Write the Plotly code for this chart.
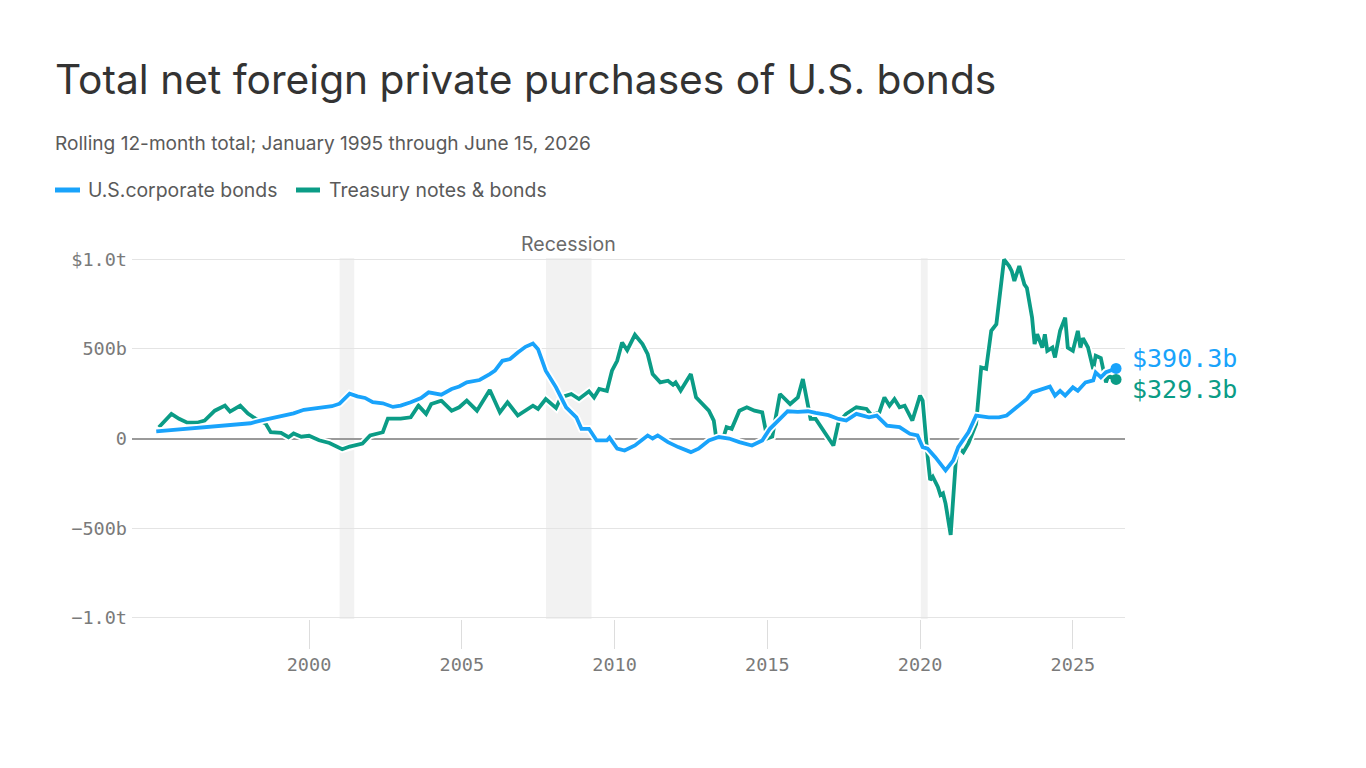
import plotly.graph_objects as go

# rolling 12-month totals, billions of dollars
corp_dates = ["1995-01", "1995-07", "1996-01", "1996-07", "1997-01", "1997-07", "1998-02", "1998-06",
              "1998-10", "1999-02", "1999-07", "1999-11", "2000-03", "2000-06", "2000-10", "2001-01",
              "2001-05", "2001-08", "2001-11", "2002-02", "2002-06", "2002-10", "2003-01", "2003-05",
              "2003-09", "2003-12", "2004-05", "2004-09", "2004-12", "2005-03", "2005-08", "2005-12",
              "2006-02", "2006-05", "2006-08", "2006-11", "2007-02", "2007-05", "2007-07", "2007-10",
              "2008-02", "2008-06", "2008-10", "2008-12", "2009-03", "2009-06", "2009-10", "2009-11",
              "2010-02", "2010-05", "2010-09", "2011-02", "2011-04", "2011-06", "2011-10", "2012-02",
              "2012-07", "2012-10", "2013-02", "2013-06", "2013-10", "2014-02", "2014-07", "2014-11",
              "2015-02", "2015-06", "2015-09", "2016-01", "2016-05", "2016-08", "2017-01", "2017-05",
              "2017-08", "2017-12", "2018-05", "2018-08", "2018-12", "2019-05", "2019-09", "2019-12",
              "2020-02", "2020-04", "2020-07", "2020-11", "2021-02", "2021-04", "2021-08", "2021-11",
              "2022-04", "2022-08", "2022-11", "2023-03", "2023-07", "2023-09", "2024-02", "2024-04",
              "2024-06", "2024-08", "2024-10", "2025-01", "2025-03", "2025-06", "2025-09", "2025-10",
              "2025-12", "2026-02", "2026-06"]
corp_vals = [40, 47, 55, 62, 70, 80, 85, 100,
             112, 124, 140, 160, 168, 174, 180, 194,
             250, 235, 226, 202, 196, 176, 183, 202,
             225, 257, 244, 276, 290, 313, 326, 359,
             378, 433, 443, 479, 511, 529, 498, 378,
             285, 174, 118, 54, 54, -11, -11, 5,
             -56, -67, -39, 17, 0, 17, -20, -48,
             -76, -57, -11, 8, 0, -20, -39, -11,
             54, 109, 152, 148, 152, 143, 130, 109,
             100, 137, 118, 128, 72, 63, 26, 17,
             -48, -57, -104, -178, -122, -48, 35, 128,
             118, 118, 128, 174, 220, 257, 281, 289,
             239, 266, 239, 285, 266, 313, 324, 368,
             341, 370, 390.3]

treas_dates = ["1995-02", "1995-07", "1995-10", "1996-01", "1996-05", "1996-08", "1996-12", "1997-04",
               "1997-06", "1997-10", "1998-01", "1998-04", "1998-08", "1998-10", "1999-02", "1999-05",
               "1999-07", "1999-10", "2000-01", "2000-05", "2000-09", "2001-02", "2001-05", "2001-10",
               "2002-01", "2002-06", "2002-08", "2003-01", "2003-05", "2003-08", "2003-11", "2004-01",
               "2004-05", "2004-09", "2004-12", "2005-03", "2005-07", "2005-12", "2006-04", "2006-07",
               "2006-11", "2007-05", "2007-07", "2007-10", "2008-02", "2008-04", "2008-08", "2008-11",
               "2009-03", "2009-05", "2009-07", "2009-10", "2009-12", "2010-02", "2010-04", "2010-06",
               "2010-09", "2010-12", "2011-02", "2011-04", "2011-07", "2011-10", "2011-12", "2012-01",
               "2012-03", "2012-07", "2012-09", "2012-11", "2013-02", "2013-04", "2013-05", "2013-08",
               "2013-09", "2013-11", "2014-02", "2014-05", "2014-08", "2014-11", "2015-01", "2015-03",
               "2015-06", "2015-10", "2016-01", "2016-03", "2016-06", "2016-08", "2016-11", "2017-01",
               "2017-03", "2017-05", "2017-08", "2017-12", "2018-04", "2018-06", "2018-09", "2018-11",
               "2019-01", "2019-03", "2019-05", "2019-07", "2019-10", "2020-01", "2020-02", "2020-04",
               "2020-05", "2020-06", "2020-08", "2020-09", "2020-10", "2020-11", "2021-01", "2021-03",
               "2021-04", "2021-06", "2021-08", "2021-11", "2022-01", "2022-03", "2022-05", "2022-07",
               "2022-09", "2022-10", "2022-12", "2023-01", "2023-02", "2023-04", "2023-06", "2023-07",
               "2023-09", "2023-10", "2023-11", "2024-01", "2024-02", "2024-03", "2024-05", "2024-06",
               "2024-08", "2024-10", "2024-11", "2025-01", "2025-03", "2025-04", "2025-05", "2025-07",
               "2025-09", "2025-10", "2025-12", "2026-02", "2026-03", "2026-06"]
treas_vals = [63, 137, 110, 90, 88, 100, 155, 183,
              150, 183, 139, 111, 83, 35, 32, 7,
              28, 10, 15, -10, -25, -60, -45, -28,
              17, 35, 111, 111, 118, 183, 137, 192,
              211, 155, 174, 211, 155, 270, 146, 202,
              128, 183, 165, 220, 170, 229, 248, 220,
              263, 229, 276, 265, 378, 433, 535, 492,
              578, 526, 470, 359, 313, 322, 300, 313,
              267, 359, 229, 202, 155, 100, 0, 17,
              63, 54, 155, 174, 155, 146, 0, 10,
              248, 192, 229, 331, 109, 109, 44, 0,
              -39, 90, 137, 174, 165, 128, 146, 229,
              183, 220, 174, 183, 100, 239, 211, -104,
              -231, -213, -270, -315, -306, -363, -537, -141,
              -48, -76, -28, 81, 396, 388, 600, 637,
              859, 998, 961, 933, 878, 961, 859, 839,
              674, 526, 581, 507, 581, 489, 507, 452,
              600, 674, 507, 489, 600, 507, 559, 507,
              387, 461, 448, 313, 350, 329.3]

recession_starts = ["2001-01-01", "2007-10-05", "2020-01-10"]
recession_ends = ["2001-06-25", "2009-04-01", "2020-04-01"]

y_ticks = [-1000, -500, 0, 500, 1000]
y_labels = ["\u22121.0t", "\u2212500b", "0", "500b", "$1.0t"]
x_ticks = ["2000-01-01", "2005-01-01", "2010-01-01", "2015-01-01", "2020-01-01", "2025-01-01"]
x_labels = ["2000", "2005", "2010", "2015", "2020", "2025"]

BLUE = "#19a3fb"
GREEN = "#0b9c86"
SANS = "Inter, 'Open Sans', sans-serif"
MONO = "'DejaVu Sans Mono', 'Liberation Mono', monospace"

fig = go.Figure()

# white halo under each line, then the line itself
for dates, vals, color in [(treas_dates, treas_vals, GREEN), (corp_dates, corp_vals, BLUE)]:
    fig.add_trace(go.Scatter(x=dates, y=vals, mode="lines",
                             line=dict(color="white", width=7.5), hoverinfo="skip", showlegend=False))
    fig.add_trace(go.Scatter(x=dates, y=vals, mode="lines",
                             line=dict(color=color, width=3.8), showlegend=False))

# end dots
fig.add_trace(go.Scatter(x=[treas_dates[-1]], y=[treas_vals[-1]], mode="markers",
                         marker=dict(color=GREEN, size=11), showlegend=False))
fig.add_trace(go.Scatter(x=[corp_dates[-1]], y=[corp_vals[-1]], mode="markers",
                         marker=dict(color=BLUE, size=11), showlegend=False))

for s, e in zip(recession_starts, recession_ends):
    fig.add_shape(type="rect", xref="x", yref="paper", x0=s, x1=e, y0=0, y1=1,
                  fillcolor="#f2f2f2", line_width=0, layer="below")

# plot area spans page px 132..1125 horizontally, 258..619 vertically
# (the page body adds an 8px offset, taken off the margins below)
def px(x):
    return (x - 132) / 993

def py(y):
    return (619 - y) / 361

annotations = [
    dict(text="Total net foreign private purchases of U.S. bonds", x=px(53), y=py(79),
         xanchor="left", yanchor="middle", font=dict(family=SANS, size=40.7, color="#333333")),
    dict(text="Rolling 12-month total; January 1995 through June 15, 2026", x=px(53), y=py(143),
         xanchor="left", yanchor="middle", font=dict(family=SANS, size=19.1, color="#5a5a5a")),
    dict(text="U.S.corporate bonds", x=px(86), y=py(190),
         xanchor="left", yanchor="middle", font=dict(family=SANS, size=19.4, color="#5a5a5a")),
    dict(text="Treasury notes & bonds", x=px(327), y=py(190),
         xanchor="left", yanchor="middle", font=dict(family=SANS, size=19.4, color="#5a5a5a")),
    dict(text="Recession", x=px(568), y=py(244),
         xanchor="center", yanchor="middle", font=dict(family=SANS, size=19.5, color="#6a6a6a")),
    dict(text="$%.1fb" % corp_vals[-1], x=corp_dates[-1], y=corp_vals[-1], xref="x", yref="y",
         xanchor="left", yanchor="middle", xshift=14, yshift=10,
         font=dict(family=MONO, size=25, color=BLUE)),
    dict(text="$%.1fb" % treas_vals[-1], x=treas_dates[-1], y=treas_vals[-1], xref="x", yref="y",
         xanchor="left", yanchor="middle", xshift=14, yshift=-10,
         font=dict(family=MONO, size=25, color=GREEN)),
]
for a in annotations:
    a.setdefault("xref", "paper")
    a.setdefault("yref", "paper")
    a["showarrow"] = False
    fig.add_annotation(**a)

# legend swatches
fig.add_shape(type="line", xref="paper", yref="paper", x0=px(55), x1=px(80), y0=py(190), y1=py(190),
              line=dict(color=BLUE, width=5))
fig.add_shape(type="line", xref="paper", yref="paper", x0=px(296), x1=px(320), y0=py(190), y1=py(190),
              line=dict(color=GREEN, width=5))

fig.update_layout(
    width=1366, height=768,
    margin=dict(l=124, r=249, t=250, b=157),
    plot_bgcolor="white", paper_bgcolor="white",
    showlegend=False,
    xaxis=dict(range=["1994-03-17", "2026-09-16"], tickvals=x_ticks, ticktext=x_labels,
               showgrid=False, zeroline=False, showline=False,
               ticks="outside", ticklen=29, tickcolor="#dddddd", tickwidth=1,
               tickfont=dict(family=MONO, size=18.5, color="#7a7a7a")),
    # range padded a little so the +/-1.0t gridlines are drawn
    yaxis=dict(range=[-1006, 1006], tickvals=y_ticks, ticktext=y_labels,
               showgrid=True, gridcolor="#e4e4e4", gridwidth=1,
               zeroline=True, zerolinecolor="#9a9a9a", zerolinewidth=1.5,
               showline=False, ticks="", ticklabelstandoff=4,
               tickfont=dict(family=MONO, size=18.5, color="#7a7a7a")),
)

fig.write_html("out.html")
